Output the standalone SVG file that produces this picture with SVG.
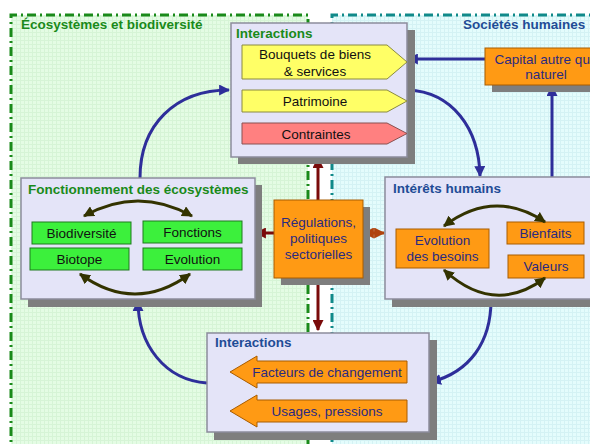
<svg xmlns="http://www.w3.org/2000/svg" width="590" height="444" viewBox="0 0 590 444">
<defs>
<pattern id="gridG" width="4" height="4" patternUnits="userSpaceOnUse">
<rect width="4" height="4" fill="#E4FCE4"/>
<path d="M0,0.5H4M0.5,0V4" stroke="#D6F4D6" stroke-width="1"/>
</pattern>
<pattern id="gridT" width="4" height="4" patternUnits="userSpaceOnUse">
<rect width="4" height="4" fill="#E4FCFC"/>
<path d="M0,0.5H4M0.5,0V4" stroke="#D4F2F4" stroke-width="1"/>
</pattern>
<marker id="mBlue" viewBox="0 0 10 10" refX="9" refY="5" markerWidth="11" markerHeight="11" markerUnits="userSpaceOnUse" orient="auto"><path d="M0,0L10,5L0,10z" fill="#2E2E9A"/></marker>
<marker id="mRed" viewBox="0 0 10 10" refX="9" refY="5" markerWidth="11" markerHeight="11" markerUnits="userSpaceOnUse" orient="auto-start-reverse"><path d="M0,0L10,5L0,10z" fill="#7A0A0A"/></marker>
<marker id="mBrown" viewBox="0 0 10 10" refX="9" refY="5" markerWidth="11" markerHeight="11" markerUnits="userSpaceOnUse" orient="auto-start-reverse"><path d="M0,0L10,5L0,10z" fill="#B0440E"/></marker>
<marker id="mOlive" viewBox="0 0 10 10" refX="9" refY="5" markerWidth="11" markerHeight="11" markerUnits="userSpaceOnUse" orient="auto-start-reverse"><path d="M0,0L10,5L0,10z" fill="#333300"/></marker>
</defs>
<style>
text{font-family:"Liberation Sans",Arial,sans-serif;font-size:13.5px}
.t{font-weight:bold}
.tg{fill:#1A8A1A}
.tb{fill:#1F4C96}
.ct{text-anchor:middle}
.dk{fill:#111}
.pu{fill:#2A2A80}
.panel{fill:#E4E4F8;stroke:#8C8C9C;stroke-width:1.5}
.sh{fill:#7E7E7E}
.org{fill:#FF9A14;stroke:#A85C00;stroke-width:1}
.grn{fill:#3CF03C;stroke:#1E7A1E;stroke-width:1}
.yel{fill:#FFFF66;stroke:#8A8A40;stroke-width:1}
.pnk{fill:#FF8080;stroke:#8A5050;stroke-width:1}
.blue{fill:none;stroke:#2E2E9A;stroke-width:3;marker-end:url(#mBlue)}
.red{fill:none;stroke:#7A0A0A;stroke-width:3}
.olive{fill:none;stroke:#333300;stroke-width:3;marker-start:url(#mOlive);marker-end:url(#mOlive)}
</style>
<rect width="590" height="444" fill="#FFFFFF"/>
<g id="zone-eco">
<rect x="11" y="15" width="297" height="440" fill="url(#gridG)"/>
<path d="M11,455V15H308V455" fill="none" stroke="#1A8A1A" stroke-width="3" stroke-dasharray="9,4,2,4"/>
<text x="21" y="29" class="t tg">Écosystèmes et biodiversité</text>
</g>
<g id="zone-soc">
<rect x="332" y="15" width="270" height="440" fill="url(#gridT)"/>
<path d="M332,455V15H600" fill="none" stroke="#108A8A" stroke-width="3" stroke-dasharray="9,4,2,4"/>
<text x="463" y="29" class="t tb">Sociétés humaines</text>
</g>
<g id="connectors">
<path class="blue" d="M140,178C140,125 175,90 229,90"/>
<path class="blue" d="M408,90C452,92 479,128 480,176"/>
<path class="blue" d="M207,383C165,380 138,345 138,301"/>
<path class="blue" d="M491,300C491,342 470,372 431,382"/>
<path class="blue" d="M485,59H408"/>
<path class="blue" d="M552,178V86"/>
<path class="red" d="M318,200V158" marker-end="url(#mRed)"/>
<path class="red" d="M318,278V330" marker-end="url(#mRed)"/>
<path class="red" d="M274,233H256" marker-end="url(#mRed)"/>
<path d="M364,233H384" fill="none" stroke="#B0440E" stroke-width="3" marker-start="url(#mBrown)" marker-end="url(#mBrown)"/>
</g>
<g id="interactions-top">
<rect class="sh" x="238" y="30" width="177" height="134"/>
<rect class="panel" x="231" y="23" width="176" height="134"/>
<text x="236" y="38" class="t tg">Interactions</text>
<g id="bouquets"><path class="yel" d="M242,45H387L407,62L387,79H242z"/>
<text x="315" y="59" class="ct dk">Bouquets de biens</text><text x="315" y="76" class="ct dk">&amp; services</text></g>
<g id="patrimoine"><path class="yel" d="M242,90H387L407,101L387,112H242z"/>
<text x="315" y="106" class="ct dk">Patrimoine</text></g>
<g id="contraintes"><path class="pnk" d="M242,123H387L407,133.5L387,144H242z"/>
<text x="316" y="139" class="ct dk">Contraintes</text></g>
</g>
<g id="capital">
<rect class="sh" x="492" y="55" width="120" height="37"/>
<rect class="org" x="485" y="48" width="125" height="37"/>
<text x="546" y="64" class="ct pu">Capital autre que</text>
<text x="546" y="79" class="ct pu">naturel</text>
</g>
<g id="fonctionnement">
<rect class="sh" x="28" y="185" width="234" height="122"/>
<rect class="panel" x="21" y="178" width="234" height="121"/>
<text x="28" y="194" class="t tg">Fonctionnement des écosystèmes</text>
<g id="biodiversite"><rect class="grn" x="32" y="222" width="99" height="22"/><text x="81.5" y="238" class="ct dk">Biodiversité</text></g>
<g id="fonctions"><rect class="grn" x="143" y="221" width="99" height="22"/><text x="192.5" y="237" class="ct dk">Fonctions</text></g>
<g id="biotope"><rect class="grn" x="30" y="248" width="99" height="22"/><text x="79.5" y="264" class="ct dk">Biotope</text></g>
<g id="evolution"><rect class="grn" x="143" y="248" width="99" height="22"/><text x="192.5" y="264" class="ct dk">Evolution</text></g>
<path class="olive" d="M84,216Q138,186 192,216"/>
<path class="olive" d="M80,274Q135,314 190,274"/>
</g>
<g id="regulations">
<rect class="sh" x="281" y="207" width="89" height="78"/>
<rect class="org" x="274" y="200" width="89" height="78"/>
<text x="318.5" y="227" class="ct pu">Régulations,</text>
<text x="318.5" y="243" class="ct pu">politiques</text>
<text x="318.5" y="259" class="ct pu">sectorielles</text>
</g>
<g id="interets">
<rect class="sh" x="392" y="185" width="210" height="122"/>
<rect class="panel" x="385" y="177" width="215" height="122"/>
<text x="393" y="193" class="t tb">Intérêts humains</text>
<g id="evolution-besoins"><rect class="org" x="396" y="229" width="93" height="39"/>
<text x="442.5" y="245" class="ct pu">Evolution</text><text x="442.5" y="261" class="ct pu">des besoins</text></g>
<g id="bienfaits"><rect class="org" x="507" y="222" width="77" height="22"/><text x="545.5" y="238" class="ct pu">Bienfaits</text></g>
<g id="valeurs"><rect class="org" x="508" y="255" width="76" height="23"/><text x="546" y="271" class="ct pu">Valeurs</text></g>
<path class="olive" d="M444,226Q494,188 545,222"/>
<path class="olive" d="M444,270Q494,316 545,278"/>
</g>
<g id="interactions-bottom">
<rect class="sh" x="214" y="340" width="223" height="100"/>
<rect class="panel" x="207" y="333" width="222" height="99"/>
<text x="215" y="347" class="t tb">Interactions</text>
<g id="facteurs"><path class="org" d="M407,361H257V356L230,372L257,388V383H407z"/>
<text x="327" y="377" class="ct pu">Facteurs de changement</text></g>
<g id="usages"><path class="org" d="M407,400H257V395L230,411L257,427V422H407z"/>
<text x="327" y="416" class="ct pu">Usages, pressions</text></g>
</g>
</svg>
